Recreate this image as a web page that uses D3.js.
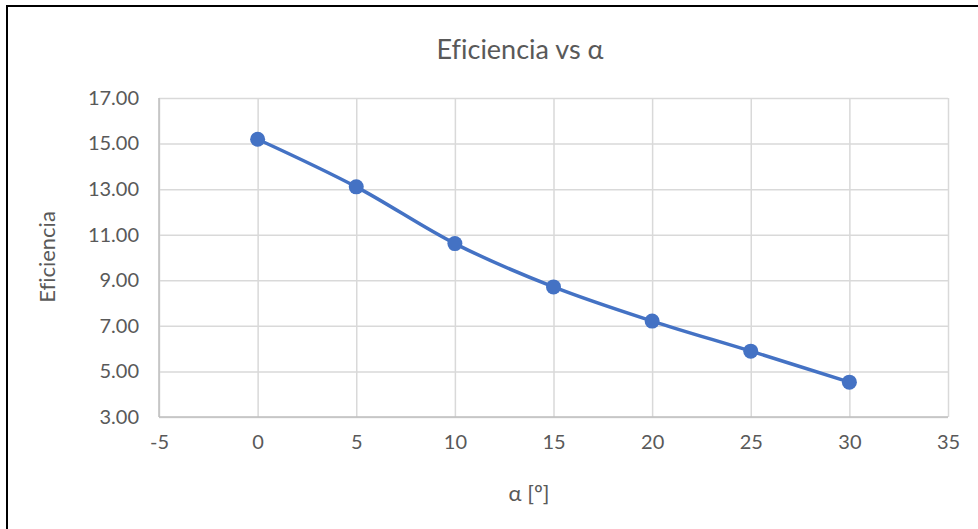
<!DOCTYPE html>
<html>
<head>
<meta charset="utf-8">
<script src="https://cdn.jsdelivr.net/npm/d3@7/dist/d3.min.js"></script>
<style>
  html, body { margin: 0; padding: 0; background: #fff; }
  svg { display: block; font-family: Lato, "Open Sans", sans-serif; font-variant-ligatures: none; }
</style>
</head>
<body>
<svg id="chart" width="978" height="529"></svg>
<script>
// Efficiency as a function of the angle alpha
const alphaValues = [0, 5, 10, 15, 20, 25, 30];
const efficiencyValues = [15.19, 13.10, 10.61, 8.71, 7.21, 5.89, 4.53];
const xTicks = [-5, 0, 5, 10, 15, 20, 25, 30, 35];
const yTicks = [3, 5, 7, 9, 11, 13, 15, 17];

const svg = d3.select("#chart");
const W = 978, H = 529;
const plot = { left: 159, right: 948, top: 98, bottom: 417 };
const textColor = "#595959";

const x = d3.scaleLinear().domain([-5, 35]).range([plot.left, plot.right]);
const y = d3.scaleLinear().domain([3, 17]).range([plot.bottom, plot.top]);

// Outer frame (left and top edges)
svg.append("path")
  .attr("d", `M7,${H} L7,6 L${W},6`)
  .attr("fill", "none").attr("stroke", "#000").attr("stroke-width", 2);

// Title
svg.append("text")
  .attr("x", 520).attr("y", 59)
  .attr("text-anchor", "middle")
  .attr("font-size", 27).attr("fill", textColor)
  .text("Eficiencia vs α");

// Vertical gridlines
svg.append("g")
  .attr("transform", `translate(0,${plot.bottom})`)
  .call(d3.axisBottom(x).tickValues(xTicks).tickSize(-(plot.bottom - plot.top)).tickFormat(""))
  .call(g => g.select(".domain").remove())
  .call(g => g.selectAll("line").attr("stroke", "#d9d9d9").attr("stroke-width", 1.5));

// Horizontal gridlines
svg.append("g")
  .attr("transform", `translate(${plot.left},0)`)
  .call(d3.axisLeft(y).tickValues(yTicks).tickSize(-(plot.right - plot.left)).tickFormat(""))
  .call(g => g.select(".domain").remove())
  .call(g => g.selectAll("line").attr("stroke", "#d9d9d9").attr("stroke-width", 1.5));

// Axis baselines
svg.append("line")
  .attr("x1", plot.left).attr("x2", plot.right)
  .attr("y1", plot.bottom).attr("y2", plot.bottom)
  .attr("stroke", "#bfbfbf").attr("stroke-width", 1.5);
svg.append("line")
  .attr("x1", plot.left).attr("x2", plot.left)
  .attr("y1", plot.top).attr("y2", plot.bottom)
  .attr("stroke", "#bfbfbf").attr("stroke-width", 1.5);

// X tick labels (plain hyphen for negatives)
svg.append("g")
  .attr("transform", `translate(0,${plot.bottom})`)
  .call(d3.axisBottom(x).tickValues(xTicks).tickSize(0).tickPadding(18).tickFormat(d => String(d)))
  .call(g => g.select(".domain").remove())
  .call(g => g.selectAll("text").attr("font-size", 20).attr("fill", textColor).attr("font-family", "Lato, sans-serif"));

// Y tick labels
svg.append("g")
  .attr("transform", `translate(${plot.left},0)`)
  .call(d3.axisLeft(y).tickValues(yTicks).tickSize(0).tickPadding(20).tickFormat(d => d.toFixed(2)))
  .call(g => g.select(".domain").remove())
  .call(g => g.selectAll("text").attr("font-size", 20).attr("fill", textColor).attr("font-family", "Lato, sans-serif"));

// Axis titles
svg.append("text")
  .attr("x", 529).attr("y", 501)
  .attr("text-anchor", "middle")
  .attr("font-size", 22).attr("fill", textColor)
  .text("α [º]");
svg.append("text")
  .attr("transform", `translate(55,257) rotate(-90)`)
  .attr("text-anchor", "middle")
  .attr("font-size", 22).attr("fill", textColor)
  .text("Eficiencia");

// Smoothed series line
const data = alphaValues.map((a, i) => ({ a, e: efficiencyValues[i] }));
const line = d3.line()
  .x(d => x(d.a)).y(d => y(d.e))
  .curve(d3.curveCatmullRom.alpha(0));
svg.append("path")
  .datum(data)
  .attr("d", line)
  .attr("fill", "none")
  .attr("stroke", "#4472c4")
  .attr("stroke-width", 3.5)
  .attr("stroke-linecap", "round");

// Markers
svg.append("g").selectAll("circle")
  .data(data)
  .join("circle")
  .attr("cx", d => x(d.a)).attr("cy", d => y(d.e))
  .attr("r", 7.5)
  .attr("fill", "#4472c4");
</script>
</body>
</html>
